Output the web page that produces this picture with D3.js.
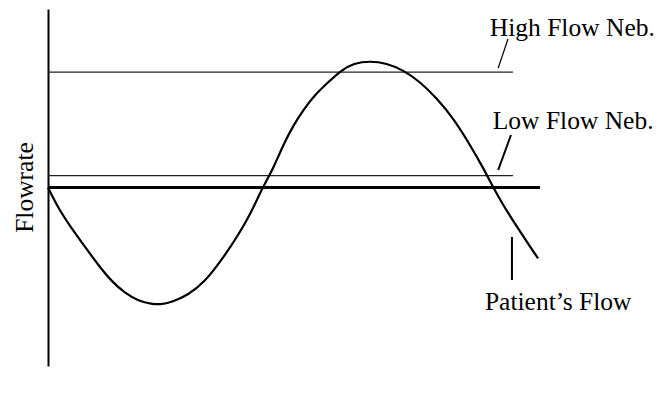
<!DOCTYPE html>
<html>
<head>
<meta charset="utf-8">
<script src="https://cdn.jsdelivr.net/npm/d3@7"></script>
<style>
  body { margin: 0; background: #fff; }
  svg text { font-family: "Liberation Serif", "Times New Roman", serif; fill: #000; }
</style>
</head>
<body>
<svg id="chart" width="658" height="393"></svg>
<script>
// patient's flow (time 0..100, flow in arbitrary units)
var flowTime = [0, 2.1, 4.8, 7.5, 10.2, 13.0, 15.7, 18.4, 21.1, 22.8, 25.1, 28.5, 31.9, 35.3, 38.7, 41.4, 43.6,
  45.8, 47.8, 49.9, 51.9, 53.9, 56.7, 59.7, 62.1, 65.5, 68.8, 72.2, 75.6, 79.0, 82.4, 85.8, 88.5, 90.5,
  92.5, 95.3, 98.0, 99.6];
var flowValue = [0, -0.175, -0.343, -0.497, -0.651, -0.792, -0.889, -0.954, -0.979, -0.983, -0.965, -0.903, -0.792, -0.609, -0.399, -0.203, 0,
  0.161, 0.357, 0.525, 0.651, 0.763, 0.876, 0.987, 1.044, 1.063, 1.044, 0.987, 0.889, 0.750, 0.582, 0.357, 0.161, 0,
  -0.147, -0.330, -0.498, -0.596];

// nebuliser levels
var levelValues = [0.97, 0.10];
var levelEnd = 94.5;

// label anchors and their leader lines, in data units
var labelText = ["High Flow Neb.", "Low Flow Neb.", "Patient\u2019s Flow"];
var labelT = [89.8, 90.4, 88.8];
var labelV = [1.273, 0.492, -1.029];
var leaderFrom = [[93.5, 1.248], [94.1, 0.441], [94.3, -0.416]];
var leaderTo = [[91.5, 1.004], [91.5, 0.147], [94.3, -0.777]];
var leaderWidth = [1.2, 2, 2];

var svg = d3.select("#chart");

var x = d3.scaleLinear().domain([0, 100]).range([48, 540]);
var y = d3.scaleLinear().domain([-1.5, 1.5]).range([366, 9]);

// vertical axis, just the line
var yAxis = d3.axisLeft(y).ticks(0).tickSizeOuter(0);
var g = svg.append("g").attr("transform", "translate(" + x(0) + ",0)").call(yAxis);
g.select(".domain").attr("stroke", "#000").attr("stroke-width", 2);

svg.append("text")
  .attr("transform", "translate(33," + y(0) + ") rotate(-90)")
  .attr("text-anchor", "middle")
  .attr("font-size", 25.5)
  .text("Flowrate");

// neb levels
svg.selectAll(".level")
  .data(levelValues)
  .enter().append("line")
  .attr("class", "level")
  .attr("x1", x(0)).attr("x2", x(levelEnd))
  .attr("y1", function (d) { return y(d); })
  .attr("y2", function (d) { return y(d); })
  .attr("stroke", "#222").attr("stroke-width", 1.2);

// zero line
svg.append("line")
  .attr("x1", x(0)).attr("x2", x(100))
  .attr("y1", y(0)).attr("y2", y(0))
  .attr("stroke", "#000").attr("stroke-width", 3);

// patient's flow curve (basis smooths out the reading noise)
var pts = flowTime.map(function (t, i) { return [t, flowValue[i]]; });
var line = d3.line()
  .x(function (d) { return x(d[0]); })
  .y(function (d) { return y(d[1]); })
  .curve(d3.curveBasis);

svg.append("path")
  .datum(pts)
  .attr("d", line)
  .attr("fill", "none")
  .attr("stroke", "#000")
  .attr("stroke-width", 2.2);

// leaders + labels
svg.selectAll(".leader")
  .data(leaderFrom)
  .enter().append("line")
  .attr("class", "leader")
  .attr("x1", function (d) { return x(d[0]); })
  .attr("y1", function (d) { return y(d[1]); })
  .attr("x2", function (d, i) { return x(leaderTo[i][0]); })
  .attr("y2", function (d, i) { return y(leaderTo[i][1]); })
  .attr("stroke", "#000")
  .attr("stroke-width", function (d, i) { return leaderWidth[i]; });

svg.selectAll(".lbl")
  .data(labelText)
  .enter().append("text")
  .attr("class", "lbl")
  .attr("x", function (d, i) { return x(labelT[i]); })
  .attr("y", function (d, i) { return y(labelV[i]); })
  .attr("font-size", 25.5)
  .text(function (d) { return d; });
</script>
</body>
</html>
